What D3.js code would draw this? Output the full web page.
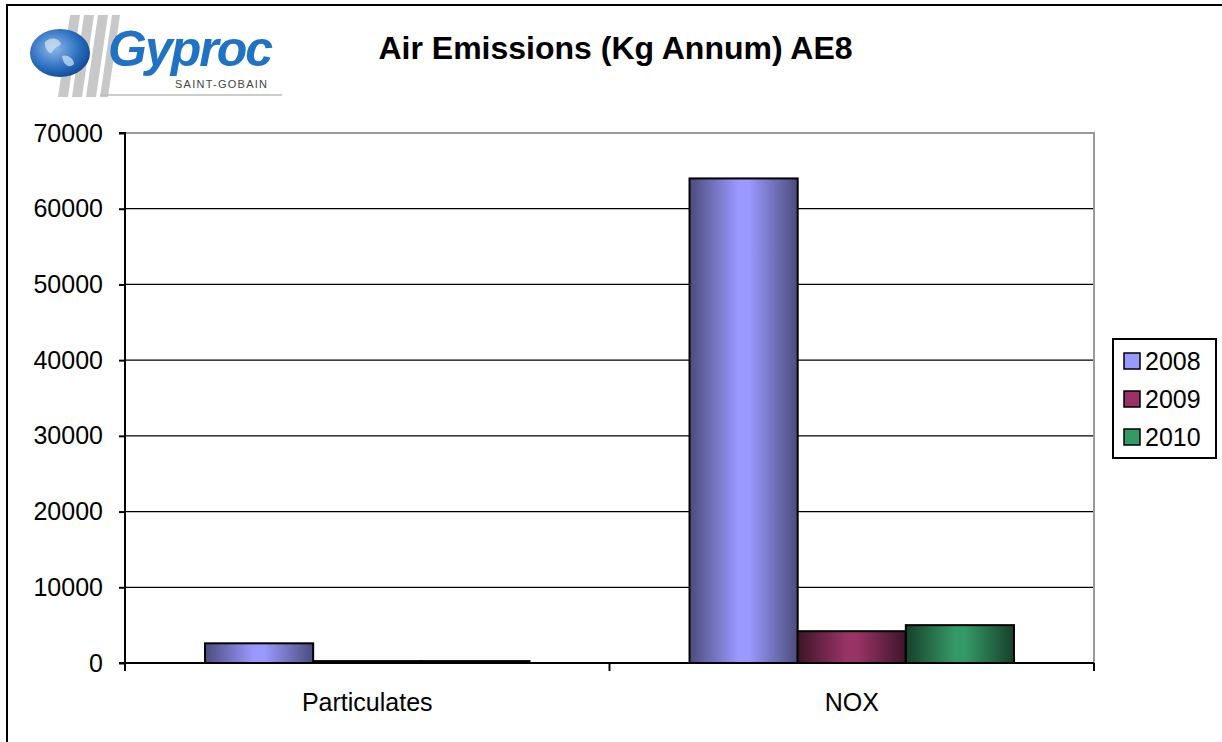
<!DOCTYPE html>
<html><head><meta charset="utf-8">
<script src="https://cdn.jsdelivr.net/npm/d3@7"></script>
<style>html,body{margin:0;padding:0;background:#fff;}svg{display:block;font-family:"Liberation Sans",Arial,sans-serif;}</style>
</head><body>
<svg id="c" width="1222" height="742"></svg>
<script>
const categories = ["Particulates", "NOX"];
const years = ["2008", "2009", "2010"];
const values2008 = [2600, 64000];
const values2009 = [250, 4200];
const values2010 = [250, 5000];
const yTicks = [0, 10000, 20000, 30000, 40000, 50000, 60000, 70000];
const colors = {"2008": ["#9999ff", "#4c4c7d"], "2009": ["#993366", "#3f1528"], "2010": ["#339966", "#17402b"]};
const title = "Air Emissions (Kg Annum) AE8";

const series = {"2008": values2008, "2009": values2009, "2010": values2010};
const svg = d3.select("#c");
const defs = svg.append("defs");
years.forEach(y => {
  const g = defs.append("linearGradient").attr("id", "g" + y).attr("x1", "0").attr("x2", "1").attr("y1", "0").attr("y2", "0");
  g.append("stop").attr("offset", "0%").attr("stop-color", colors[y][1]);
  g.append("stop").attr("offset", "45%").attr("stop-color", colors[y][0]);
  g.append("stop").attr("offset", "55%").attr("stop-color", colors[y][0]);
  g.append("stop").attr("offset", "100%").attr("stop-color", colors[y][1]);
});
const gl = defs.append("radialGradient").attr("id", "globe").attr("cx", "0.4").attr("cy", "0.4").attr("r", "0.7");
gl.append("stop").attr("offset", "0%").attr("stop-color", "#8fb8e8");
gl.append("stop").attr("offset", "60%").attr("stop-color", "#2a6fc0");
gl.append("stop").attr("offset", "100%").attr("stop-color", "#0d3f86");

// outer border
svg.append("path").attr("d", "M7,742V5H1222").attr("fill", "none").attr("stroke", "#000").attr("stroke-width", 2);

// logo
const logo = svg.append("g");
[[58,15,10],[72,15,10],[86,15,10],[100,15,8]].forEach(s => {
  logo.append("path").attr("d", `M${s[0]+12},${s[1]}h${s[2]}l-12,82h-${s[2]}z`).attr("fill", "#c8c8c8");
});
logo.append("ellipse").attr("cx", 60).attr("cy", 53).attr("rx", 30).attr("ry", 24).attr("fill", "url(#globe)");
logo.append("path").attr("d", "M45,42c6,-6 14,-4 16,2c-3,4 -8,3 -9,9c-4,1 -8,-6 -7,-11zM62,56c5,-2 12,2 12,8c-4,4 -10,3 -12,-8z").attr("fill", "#d9e6f5").attr("opacity", 0.7);
logo.append("text").attr("x", 108).attr("y", 66).attr("font-size", 50).attr("font-weight", "bold").attr("font-style", "italic")
  .attr("fill", "#1f72c4").attr("textLength", 165).text("Gyproc");
logo.append("text").attr("x", 175).attr("y", 88).attr("font-size", 11).attr("fill", "#444").attr("textLength", 92).text("SAINT-GOBAIN");
logo.append("line").attr("x1", 100).attr("x2", 282).attr("y1", 95).attr("y2", 95).attr("stroke", "#bbb").attr("stroke-width", 1.5);

// title
svg.append("text").attr("x", 615.5).attr("y", 59).attr("text-anchor", "middle").attr("font-size", 32).attr("font-weight", "bold").text(title);

const L = 125, R = 1094, T = 133, B = 663;
const y = d3.scaleLinear().domain([0, 70000]).range([B, T]);
const x0 = d3.scaleBand().domain(categories).range([L, R]);
const x1 = d3.scaleBand().domain(years).range([0, x0.bandwidth()]).paddingOuter(0.74);

// gridlines
svg.append("g").selectAll("line").data(yTicks.filter(t => t > 0 && t < 70000)).join("line")
  .attr("x1", L).attr("x2", R).attr("y1", d => y(d)).attr("y2", d => y(d)).attr("stroke", "#000").attr("stroke-width", 1.3);
// plot top & right border gray
svg.append("path").attr("d", `M${L},${T}H${R}V${B}`).attr("fill", "none").attr("stroke", "#999").attr("stroke-width", 2);

// bars
const bars = [];
categories.forEach((c, i) => years.forEach(yr => bars.push({c, yr, v: series[yr][i]})));
svg.append("g").selectAll("rect").data(bars).join("rect")
  .attr("x", d => x0(d.c) + x1(d.yr)).attr("width", x1.bandwidth())
  .attr("y", d => y(d.v)).attr("height", d => B - y(d.v))
  .attr("fill", d => `url(#g${d.yr})`).attr("stroke", "#000").attr("stroke-width", 2);

// y axis
const yAxis = d3.axisLeft(y).tickValues(yTicks).tickSize(6).tickPadding(16).tickFormat(d3.format("d"));
const ya = svg.append("g").attr("transform", `translate(${L},0)`).call(yAxis);
ya.select(".domain").attr("stroke", "#000").attr("stroke-width", 2).attr("d", `M-6,${T}H0V${B}H-6`);
ya.selectAll(".tick line").attr("stroke", "#000").attr("stroke-width", 2);
ya.selectAll("text").attr("font-size", 25).attr("font-family", "Liberation Sans, Arial, sans-serif").attr("fill", "#000");

// x axis
const xa = svg.append("g").attr("transform", `translate(0,${B})`)
  .call(d3.axisBottom(x0).tickSize(0).tickPadding(30));
xa.select(".domain").attr("stroke", "#000").attr("stroke-width", 2).attr("d", `M${L},0H${R}`);
xa.selectAll("text").attr("font-size", 25).attr("font-family", "Liberation Sans, Arial, sans-serif").attr("fill", "#000");
const xEdges = [L].concat(categories.map(c => x0(c) + x0.bandwidth()));
svg.append("g").selectAll("line").data(xEdges).join("line")
  .attr("x1", d => d).attr("x2", d => d).attr("y1", B).attr("y2", B + 8).attr("stroke", "#000").attr("stroke-width", 2);

// legend
const lg = svg.append("g");
lg.append("rect").attr("x", 1113).attr("y", 339).attr("width", 103).attr("height", 119).attr("fill", "#fff").attr("stroke", "#000").attr("stroke-width", 2);
years.forEach((yr, i) => {
  const cy = 361 + i * 38;
  lg.append("rect").attr("x", 1124).attr("y", cy - 8).attr("width", 16).attr("height", 16).attr("fill", colors[yr][0]).attr("stroke", "#000").attr("stroke-width", 1.5);
  lg.append("text").attr("x", 1145).attr("y", cy + 9).attr("font-size", 25).text(yr);
});
</script>
</body></html>
